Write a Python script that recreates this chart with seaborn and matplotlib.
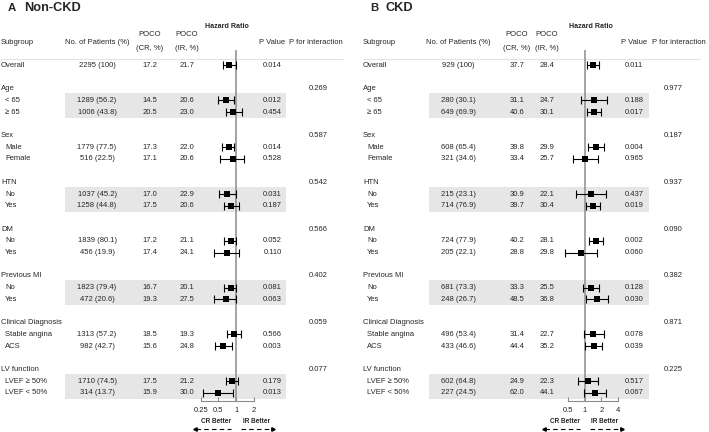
import numpy as np
import pandas as pd
import matplotlib
matplotlib.use("Agg")
import matplotlib.pyplot as plt
import seaborn as sns

# ---- data ----
groups = ["Age", "Sex", "HTN", "DM", "Previous MI", "Clinical Diagnosis", "LV function"]
levels = [["< 65", "≥ 65"], ["Male", "Female"], ["No", "Yes"], ["No", "Yes"],
          ["No", "Yes"], ["Stable angina", "ACS"], ["LVEF ≥ 50%", "LVEF < 50%"]]
shaded_groups = ["Age", "HTN", "Previous MI", "LV function"]

# rows: Overall, then the two levels of each group
nonckd_n = ["2295 (100)", "1289 (56.2)", "1006 (43.8)", "1779 (77.5)", "516 (22.5)",
            "1037 (45.2)", "1258 (44.8)", "1839 (80.1)", "456 (19.9)", "1823 (79.4)",
            "472 (20.6)", "1313 (57.2)", "982 (42.7)", "1710 (74.5)", "314 (13.7)"]
nonckd_cr = ["17.2", "14.5", "20.5", "17.3", "17.1", "17.0", "17.5", "17.2", "17.4",
             "16.7", "19.3", "18.5", "15.6", "17.5", "15.9"]
nonckd_ir = ["21.7", "20.6", "23.0", "22.0", "20.6", "22.9", "20.6", "21.1", "24.1",
             "20.1", "27.5", "19.3", "24.8", "21.2", "30.0"]
nonckd_p = ["0.014", "0.012", "0.454", "0.014", "0.528", "0.031", "0.187", "0.052",
            "0.110", "0.081", "0.063", "0.566", "0.003", "0.179", "0.013"]
nonckd_pint = ["0.269", "0.587", "0.542", "0.566", "0.402", "0.059", "0.077"]
nonckd_hr = [0.76, 0.67, 0.87, 0.75, 0.87, 0.70, 0.81, 0.80, 0.69, 0.81, 0.66, 0.92, 0.60, 0.86, 0.49]
nonckd_lo = [0.60, 0.50, 0.66, 0.58, 0.54, 0.51, 0.61, 0.61, 0.42, 0.63, 0.42, 0.70, 0.43, 0.67, 0.27]
nonckd_hi = [0.98, 0.91, 1.23, 0.92, 1.37, 0.99, 1.10, 1.01, 1.10, 1.01, 1.01, 1.22, 0.85, 1.07, 0.87]

ckd_n = ["929 (100)", "280 (30.1)", "649 (69.9)", "608 (65.4)", "321 (34.6)",
         "215 (23.1)", "714 (76.9)", "724 (77.9)", "205 (22.1)", "681 (73.3)",
         "248 (26.7)", "496 (53.4)", "433 (46.6)", "602 (64.8)", "227 (24.5)"]
ckd_cr = ["37.7", "31.1", "40.6", "39.8", "33.4", "30.9", "39.7", "40.2", "28.8",
          "33.3", "48.5", "31.4", "44.4", "24.9", "62.0"]
ckd_ir = ["28.4", "24.7", "30.1", "29.9", "25.7", "22.1", "30.4", "28.1", "29.8",
          "25.5", "36.8", "22.7", "35.2", "22.3", "44.1"]
ckd_p = ["0.011", "0.188", "0.017", "0.004", "0.965", "0.437", "0.019", "0.002",
         "0.060", "0.128", "0.030", "0.078", "0.039", "0.517", "0.067"]
ckd_pint = ["0.977", "0.187", "0.937", "0.090", "0.382", "0.871", "0.225"]
ckd_hr = [1.41, 1.46, 1.48, 1.63, 1.02, 1.29, 1.42, 1.63, 0.86, 1.31, 1.68, 1.44, 1.46, 1.14, 1.54]
ckd_lo = [1.10, 0.86, 1.10, 1.17, 0.61, 0.70, 1.07, 1.21, 0.44, 0.93, 1.05, 0.96, 1.02, 0.76, 0.97]
ckd_hi = [1.82, 2.53, 1.95, 2.23, 1.73, 2.46, 1.90, 2.12, 1.66, 1.82, 2.67, 2.21, 2.03, 1.73, 2.43]

# ---- style ----
sns.set_theme(style="white")
plt.rcParams["font.family"] = ["Liberation Sans", "DejaVu Sans"]
FS = 5.5
GRAY = "#8c8c8c"
SHADE = "#e6e6e6"

W, H = 709, 432
fig = plt.figure(figsize=(W / 100, H / 100), dpi=100)
bg = fig.add_axes([0, 0, 1, 1])
bg.set_xlim(0, W)
bg.set_ylim(H, 0)
bg.axis("off")

ROW0, ROWH = 65.3, 11.7


def row_y(i):
    return ROW0 + ROWH * i


def draw_panel(sx, title_letter, title, n, cr, ir, p, pint, hr, lo, hi, cols, axlim, ticks, ticklabels):
    # column centres: n, cr, ir, hazard ratio title, p, p-int header, p-int values;
    # shade start/end; header line end
    nx, crx, irx, hrx, px, pihx, pix, sh0, sh1, line_end = cols
    bg.text(sx + 7, 8, title_letter, fontsize=8.2, fontweight="bold", va="center")
    bg.text(sx + 23, 8, title, fontsize=9.2, fontweight="bold", va="center")

    # header
    bg.text(sx, 42, "Subgroup", fontsize=FS, va="center")
    bg.text(nx, 42, "No. of Patients (%)", fontsize=FS, va="center", ha="center")
    for cx, lab in [(crx, "(CR, %)"), (irx, "(IR, %)")]:
        bg.text(cx, 35, "POCO", fontsize=FS, va="center", ha="center")
        bg.text(cx, 48.5, lab, fontsize=FS, va="center", ha="center")
    bg.text(hrx, 26, "Hazard Ratio", fontsize=5.1, va="center", ha="center", fontweight="bold")
    bg.text(px, 42, "P Value", fontsize=FS, va="center", ha="center")
    bg.text(pihx, 42, "P for interaction", fontsize=FS, va="center", ha="center")
    bg.plot([sx, line_end], [58.5, 58.5], color="#e4e4e4", lw=0.8)

    # rows
    labels, data_rows, idx = [("Overall", 0, 0)], [0], 1
    r = 2
    for g, lv in zip(groups, levels):
        labels.append((g, r, None))
        if g in shaded_groups:
            bg.add_patch(plt.Rectangle((sh0, row_y(r + 1) - 7.4), sh1 - sh0, ROWH + 13.4,
                                       color=SHADE, lw=0, zorder=0))
        bg.text(pix, row_y(r), pint[groups.index(g)], fontsize=FS, va="center", ha="center")
        for k, l in enumerate(lv):
            labels.append(("  " + l, r + 1 + k, idx))
            data_rows.append(r + 1 + k)
            idx += 1
        r += 4

    for lab, rr, j in labels:
        bg.text(sx + (4 if lab.startswith("  ") else 0), row_y(rr), lab.strip(),
                fontsize=FS, va="center")
        if j is not None:
            bg.text(nx, row_y(rr), n[j], fontsize=FS, va="center", ha="center")
            bg.text(crx, row_y(rr), cr[j], fontsize=FS, va="center", ha="center")
            bg.text(irx, row_y(rr), ir[j], fontsize=FS, va="center", ha="center")
            bg.text(px, row_y(rr), p[j], fontsize=FS, va="center", ha="center")

    # forest axis
    ax_x0, ax_x1 = axlim
    top_px, bot_px = 50, 401
    ax = fig.add_axes([ax_x0 / W, 1 - bot_px / H, (ax_x1 - ax_x0) / W, (bot_px - top_px) / H])
    ax.patch.set_alpha(0)
    ax.set_xscale("log")
    ax.set_xlim(ticks[0], ticks[-1])
    ax.set_ylim((bot_px - ROW0) / ROWH, (top_px - ROW0) / ROWH)
    df = pd.DataFrame({"hr": hr, "lo": lo, "hi": hi, "row": data_rows})
    ax.axvline(1, color=GRAY, lw=1.1, zorder=1)
    ax.errorbar(df["hr"], df["row"], xerr=[df["hr"] - df["lo"], df["hi"] - df["hr"]],
                fmt="none", ecolor="black", elinewidth=0.8, capsize=2.6, capthick=0.8,
                clip_on=False, zorder=2)
    sns.scatterplot(data=df, x="hr", y="row", marker="s", s=14, color="black",
                    edgecolor="black", linewidth=0, ax=ax, zorder=3, clip_on=False)
    for sp in ["top", "right", "left"]:
        ax.spines[sp].set_visible(False)
    ax.spines["bottom"].set_color(GRAY)
    ax.spines["bottom"].set_linewidth(0.8)
    ax.set_xticks(ticks)
    ax.set_xticks([], minor=True)
    ax.set_xticklabels(ticklabels)
    ax.tick_params(axis="x", direction="in", length=3, width=0.8, color=GRAY,
                   labelsize=FS, pad=4, bottom=True)
    ax.set_yticks([])
    ax.set_xlabel("")
    ax.set_ylabel("")

    # direction labels and arrows
    mid = ax_x0 + (ax_x1 - ax_x0) * (np.log(1) - np.log(ticks[0])) / (np.log(ticks[-1]) - np.log(ticks[0]))
    cr_c, ir_c = mid - 20, mid + 20
    bg.text(cr_c, 421.5, "CR Better", fontsize=4.7, ha="center", va="center", fontweight="bold")
    bg.text(ir_c, 421.5, "IR Better", fontsize=4.7, ha="center", va="center", fontweight="bold")
    bg.plot([cr_c - 20, cr_c + 15], [428.5, 428.5], color="black", lw=0.8, ls=(0, (4, 3)))
    bg.plot([cr_c - 21], [428.5], marker="<", color="black", ms=2.5)
    bg.plot([ir_c - 15, ir_c + 16], [428.5, 428.5], color="black", lw=0.8, ls=(0, (4, 3)))
    bg.plot([ir_c + 17], [428.5], marker=">", color="black", ms=2.5)


draw_panel(1, "A", "Non-CKD", nonckd_n, nonckd_cr, nonckd_ir, nonckd_p, nonckd_pint,
           nonckd_hr, nonckd_lo, nonckd_hi,
           (97, 150, 187, 227, 272.5, 316, 318, 65, 286, 343),
           (200.7, 254.0), [0.25, 0.5, 1, 2], ["0.25", "0.5", "1", "2"])
draw_panel(363, "B", "CKD", ckd_n, ckd_cr, ckd_ir, ckd_p, ckd_pint,
           ckd_hr, ckd_lo, ckd_hi,
           (458, 517, 547, 591, 634, 679, 673, 429, 649, 700),
           (567.7, 618.3), [0.5, 1, 2, 4], ["0.5", "1", "2", "4"])

fig.savefig("out.png", dpi=100)
